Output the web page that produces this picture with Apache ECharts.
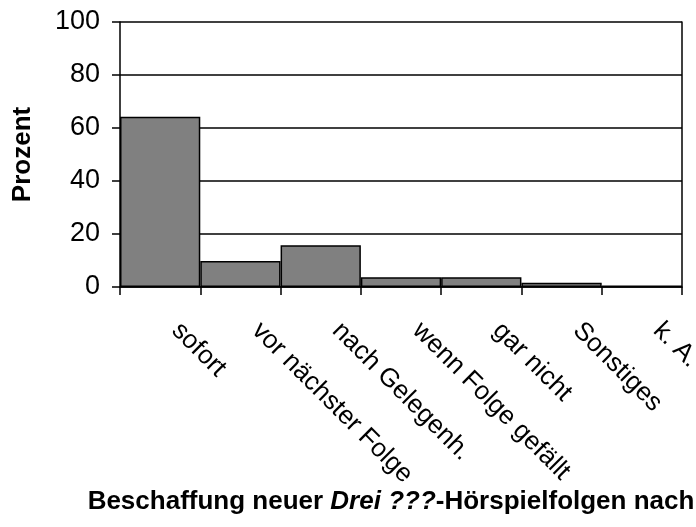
<!DOCTYPE html>
<html>
<head>
<meta charset="utf-8">
<script src="https://cdn.jsdelivr.net/npm/echarts@6/dist/echarts.min.js"></script>
<style>
  html, body { margin: 0; padding: 0; background: #fff; overflow: hidden; }
  #chart { width: 696px; height: 527px; }
</style>
</head>
<body>
<div id="chart"></div>
<script>
const categories = ['sofort', 'vor nächster Folge', 'nach Gelegenh.', 'wenn Folge gefällt', 'gar nicht', 'Sonstiges', 'k. A.']
const percent = [64.2, 9.8, 15.8, 3.7, 3.7, 1.6, 0.6]
const yTicks = [0, 20, 40, 60, 80, 100]

const font = 'Liberation Sans, Arial, sans-serif'
const chart = echarts.init(document.getElementById('chart'))

chart.setOption({
  backgroundColor: '#fff',
  animation: false,
  grid: {
    left: 120, right: 14, top: 22, bottom: 240,
    outerBoundsMode: 'none',
    containLabel: false
  },
  xAxis: {
    type: 'category',
    data: categories,
    axisLine: { lineStyle: { color: '#000', width: 1.5 } },
    axisTick: { show: true, length: 8, lineStyle: { color: '#000', width: 1.5 } },
    axisLabel: {
      rotate: -45,
      interval: 0,
      margin: 24,
      padding: [0, 0, 0, 22],
      color: '#000',
      fontFamily: font,
      fontSize: 26
    }
  },
  yAxis: [{
    type: 'value',
    min: yTicks[0],
    max: yTicks[yTicks.length - 1],
    interval: 20,
    name: 'Prozent',
    nameLocation: 'middle',
    nameRotate: 90,
    nameGap: 84,
    nameTextStyle: { color: '#000', fontFamily: font, fontSize: 26, fontWeight: 'bold' },
    axisLine: { show: true, lineStyle: { color: '#000', width: 1.5 } },
    axisTick: { show: true, length: 8, lineStyle: { color: '#000', width: 1.5 } },
    axisLabel: { margin: 20, color: '#000', fontFamily: font, fontSize: 27 },
    splitLine: { show: true, lineStyle: { color: '#000', width: 1.5 } }
  }, {
    // right frame line of the plot area
    type: 'value',
    position: 'right',
    min: yTicks[0],
    max: yTicks[yTicks.length - 1],
    interval: 20,
    axisLine: { show: true, onZero: false, lineStyle: { color: '#000', width: 1.5 } },
    axisTick: { show: false },
    axisLabel: { show: false },
    splitLine: { show: false }
  }],
  graphic: [{
    type: 'text',
    x: 391,
    y: 502,
    style: {
      text: '{b|Beschaffung neuer }{i|Drei ???}{b|-Hörspielfolgen nach}',
      align: 'center',
      verticalAlign: 'middle',
      rich: {
        b: { fontFamily: font, fontSize: 26, fontWeight: 'bold', fill: '#000' },
        i: { fontFamily: font, fontSize: 26, fontWeight: 'bold', fontStyle: 'italic', fill: '#000' }
      }
    }
  }],
  series: [{
    type: 'bar',
    data: percent,
    barCategoryGap: '0%',
    itemStyle: { color: '#808080', borderColor: '#000', borderWidth: 1.5 }
  }]
})
</script>
</body>
</html>
